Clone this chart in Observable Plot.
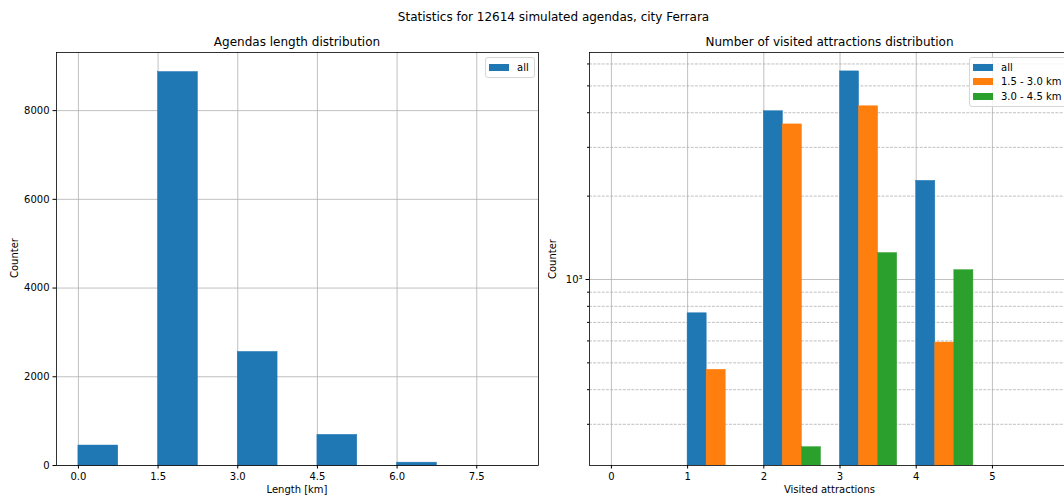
<!DOCTYPE html>
<html><head><meta charset="utf-8">
<script src="https://cdn.jsdelivr.net/npm/d3@7"></script>
<script src="https://cdn.jsdelivr.net/npm/@observablehq/plot@0.6"></script>
<style>
html,body{margin:0;padding:0;overflow:hidden;background:#fff;}
body{font-family:"DejaVu Sans",sans-serif;color:#000;}
#fig{position:relative;width:1106px;height:499px;overflow:hidden;}
.abs{position:absolute;white-space:nowrap;line-height:1;}
.c{transform:translate(-50%,-50%);}
.rot{transform:translate(-50%,-50%) rotate(-90deg);}
.t12{font-size:12px;}
.t10{font-size:10px;}
.legend{position:absolute;border:1px solid #d6d6d6;border-radius:3px;background:rgba(255,255,255,0.8);font-size:10px;box-sizing:border-box;}
.item{position:absolute;left:3px;height:14px;display:flex;align-items:center;}
.sw{width:20px;height:7px;margin-right:8px;}
svg{position:absolute;}
</style>
</head><body>
<div id="fig"></div>
<script>
// ---- data: left panel (agenda length histogram)
const lengthBinEdges = [0, 0.75, 1.5, 2.25, 3.0, 3.75, 4.5, 5.25, 6.0, 6.75, 7.5, 8.25];
const lengthCounts = [450, 0, 8870, 0, 2560, 0, 690, 0, 64, 0, 0];
const lengthTicks = [0, 1.5, 3.0, 4.5, 6.0, 7.5];
const counterTicks = [0, 2000, 4000, 6000, 8000];

// ---- data: right panel (visited attractions, log scale)
const visited = [1, 2, 3, 4];
const seriesNames = ["all", "1.5 - 3.0 km", "3.0 - 4.5 km"];
const countsAll = [755, 4050, 5640, 2270];
const counts15to30 = [472, 3630, 4220, 592];
const counts30to45 = [0, 248, 1245, 1080];
const seriesColors = ["#1f77b4", "#ff7f0e", "#2ca02c"];
const visitedTicks = [0, 1, 2, 3, 4, 5];
const logMajorTicks = [1000];
const logMinorTicks = [300, 400, 500, 600, 700, 800, 900, 2000, 3000, 4000, 5000, 6000];

const fig = document.getElementById("fig");
const gridStyle = {stroke: "#b0b0b0", strokeOpacity: 1, strokeWidth: 0.8};
const baseStyle = {fontFamily: "DejaVu Sans", fontSize: "10px", color: "#000", background: "transparent", overflow: "visible"};

// Left chart
const lengthData = lengthCounts
  .map((c, i) => ({x1: lengthBinEdges[i], x2: lengthBinEdges[i + 1], count: c}))
  .filter(d => d.count > 0);

const left = Plot.plot({
  width: 553, height: 499,
  marginLeft: 56, marginRight: 15, marginTop: 52, marginBottom: 34,
  style: baseStyle,
  x: {domain: [-0.4125, 8.6625]},
  y: {domain: [0, 9310]},
  marks: [
    Plot.gridX(lengthTicks, gridStyle),
    Plot.gridY(counterTicks, gridStyle),
    Plot.rectY(lengthData, {x1: "x1", x2: "x2", y1: 0, y2: "count", fill: "#1f77b4", stroke: "#1f77b4", strokeWidth: 0.5}),
    Plot.axisX(lengthTicks, {tickFormat: d => d.toFixed(1), tickSize: 3.5, tickPadding: 3.5, label: null, fontSize: 10, stroke: "#000"}),
    Plot.axisY(counterTicks, {tickFormat: d => String(d), tickSize: 3.5, tickPadding: 3.5, label: null, fontSize: 10, stroke: "#000"}),
    Plot.frame({stroke: "#000", strokeWidth: 0.8})
  ]
});
left.style.left = "0px"; left.style.top = "0px";
fig.appendChild(left);

// Right chart
const seriesCounts = [countsAll, counts15to30, counts30to45];
const barWidth = 0.25;
const visitData = [];
seriesCounts.forEach((arr, s) => arr.forEach((c, i) => {
  if (c > 0) visitData.push({x1: visited[i] + s * barWidth, x2: visited[i] + (s + 1) * barWidth, count: c, series: seriesNames[s]});
}));

const right = Plot.plot({
  width: 566, height: 499,
  marginLeft: 49, marginRight: 35, marginTop: 52, marginBottom: 34,
  style: baseStyle,
  x: {domain: [-0.2875, 6.0375]},
  y: {type: "log", domain: [213, 6600]},
  color: {domain: seriesNames, range: seriesColors},
  marks: [
    Plot.gridX(visitedTicks, gridStyle),
    Plot.gridY(logMinorTicks, {...gridStyle, strokeDasharray: "2.96,1.28"}),
    Plot.gridY(logMajorTicks, gridStyle),
    Plot.rectY(visitData, {x1: "x1", x2: "x2", y1: 100, y2: "count", fill: "series", stroke: "series", strokeWidth: 0.5, clip: true}),
    Plot.axisX(visitedTicks, {tickFormat: d => String(d), tickSize: 3.5, tickPadding: 3.5, label: null, fontSize: 10, stroke: "#000"}),
    Plot.axisY(logMinorTicks, {tickFormat: () => "", tickSize: 2, label: null, stroke: "#000"}),
    Plot.axisY(logMajorTicks, {tickFormat: () => "10³", tickSize: 3.5, tickPadding: 3.5, label: null, fontSize: 10, stroke: "#000"}),
    Plot.frame({stroke: "#000", strokeWidth: 0.8})
  ]
});
right.style.left = "540px"; right.style.top = "0px";
fig.appendChild(right);

// Texts
function txt(s, x, y, cls) {
  const d = document.createElement("div");
  d.className = "abs " + cls;
  d.style.left = x + "px"; d.style.top = y + "px";
  d.textContent = s;
  fig.appendChild(d);
  return d;
}
txt("Statistics for 12614 simulated agendas, city Ferrara", 553.5, 17, "c t12");
txt("Agendas length distribution", 297, 41.5, "c t12");
txt("Number of visited attractions distribution", 829.5, 41.5, "c t12");
txt("Length [km]", 297, 490, "c t10");
txt("Visited attractions", 829.5, 490, "c t10");
txt("Counter", 15, 258, "rot t10");
txt("Counter", 553, 259, "rot t10");

// Legends
function legend(names, colors, x, y, w) {
  const box = document.createElement("div");
  box.className = "legend";
  box.style.left = x + "px"; box.style.top = y + "px";
  box.style.width = w + "px";
  box.style.height = (6 + names.length * 14.6) + "px";
  names.forEach((n, i) => {
    const it = document.createElement("div");
    it.className = "item";
    it.style.top = (2 + i * 14.6) + "px";
    const sw = document.createElement("div");
    sw.className = "sw"; sw.style.background = colors[i];
    const t = document.createElement("span");
    t.textContent = n;
    it.appendChild(sw); it.appendChild(t);
    box.appendChild(it);
  });
  fig.appendChild(box);
}
legend(["all"], [seriesColors[0]], 485, 57, 50);
legend(seriesNames, seriesColors, 969, 57, 100);
</script>
</body></html>
